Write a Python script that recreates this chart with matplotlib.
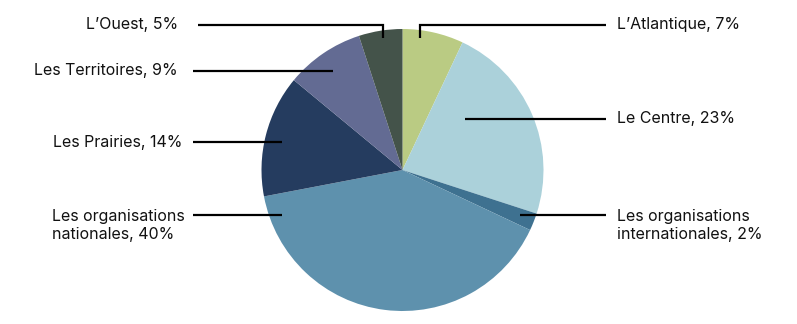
import matplotlib
matplotlib.use("Agg")
import matplotlib.pyplot as plt

plt.rcParams['font.family'] = ['Inter', 'DejaVu Sans']

# data, clockwise from the top
regions = ["L\u2019Atlantique", "Le Centre", "Les organisations\ninternationales",
           "Les organisations\nnationales", "Les Prairies", "Les Territoires", "L\u2019Ouest"]
shares = [7, 23, 2, 40, 14, 9, 5]
colors = ["#BACB83", "#ABD1DA", "#3E7190", "#5E91AD", "#253C5F", "#636B93", "#44534A"]

W, H = 797, 324
fig = plt.figure(figsize=(W / 100, H / 100), dpi=100)
ax = fig.add_axes([0, 0, 1, 1])

ax.pie(shares, colors=colors, startangle=90, counterclock=False,
       center=(402.5, H - 170), radius=141,
       wedgeprops=dict(linewidth=0))
ax.set_xlim(0, W)
ax.set_ylim(0, H)
ax.set_aspect("equal")
ax.axis("off")

# label layout in pixel coords (top-left origin): path of leader line, text anchor, side
layout = [
    ([(420, 38), (420, 25), (606, 25)], (617, 25), "left"),
    ([(465, 119), (606, 119)], (617, 119), "left"),
    ([(520, 215), (606, 215)], (617, 226), "left"),
    ([(282, 215), (193, 215)], (185, 226), "right"),
    ([(282, 142), (193, 142)], (182, 142), "right"),
    ([(333, 71), (193, 71)], (178, 71), "right"),
    ([(383, 38), (383, 25), (198, 25)], (178, 25), "right"),
]

for name, val, (path, (tx, ty), side) in zip(regions, shares, layout):
    xs = [p[0] for p in path]
    ys = [H - p[1] for p in path]
    ax.plot(xs, ys, color="black", lw=1.6, solid_capstyle="butt", solid_joinstyle="miter")
    ax.text(tx, H - ty, f"{name}, {val}%", ha=side, va="center",
            multialignment="left", fontsize=11.5, color="#111111", linespacing=1.25)

fig.savefig("out.png", dpi=100, facecolor="white")
